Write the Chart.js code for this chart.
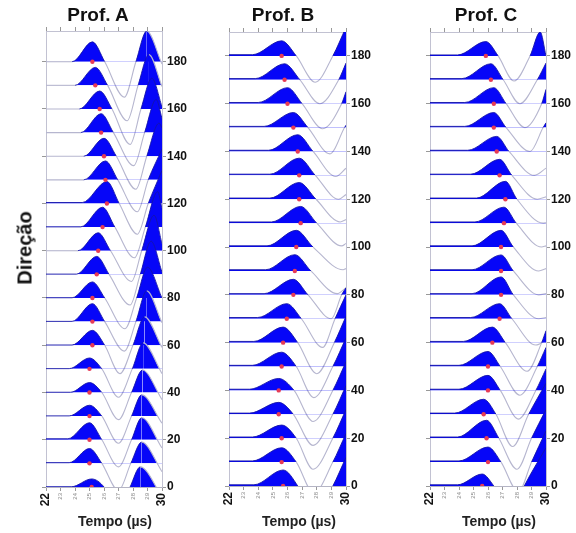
<!DOCTYPE html>
<html>
<head>
<meta charset="utf-8">
<script src="https://cdn.jsdelivr.net/npm/chart.js@4.4.0/dist/chart.umd.min.js"></script>
<style>
  body { margin: 0; background: #fff; width: 576px; height: 533px; position: relative; overflow: hidden;
         font-family: 'Liberation Sans', Arial, sans-serif; }
  canvas { position: absolute; left: 0; top: 0; }
  .txt { position: absolute; font-weight: bold; color: #111; white-space: nowrap; transform: translate(-50%, -50%); }
</style>
</head>
<body>
<canvas id="grafA" width="576" height="533"></canvas>
<canvas id="grafB" width="576" height="533"></canvas>
<canvas id="grafC" width="576" height="533"></canvas>

<div class="txt" style="left:98px;top:15px;font-size:19px">Prof. A</div>
<div class="txt" style="left:283px;top:15px;font-size:19px">Prof. B</div>
<div class="txt" style="left:486px;top:15px;font-size:19px">Prof. C</div>
<div class="txt" style="left:25px;top:248px;font-size:20px;transform:translate(-50%,-50%) rotate(-90deg)">Direção</div>
<div class="txt" style="left:115px;top:521px;font-size:14px;color:#222">Tempo (µs)</div>
<div class="txt" style="left:299px;top:521px;font-size:14px;color:#222">Tempo (µs)</div>
<div class="txt" style="left:499px;top:521px;font-size:14px;color:#222">Tempo (µs)</div>

<script>
// Direcoes (graus) de cada traco, de baixo para cima
const direcoes = [0, 10, 20, 30, 40, 50, 60, 70, 80, 90, 100, 110, 120, 130, 140, 150, 160, 170, 180];
const tempoMin = 22, tempoMax = 30;

// ---- Prof. A ----
const picoA   = [25.15, 25.0, 25.0, 25.0, 25.0, 25.0, 25.2, 25.2, 25.2, 25.5, 25.6, 25.9, 26.2, 26.1, 26.0, 25.8, 25.7, 25.4, 25.2];
const ampA    = [3.4, 6.3, 7.2, 4.6, 4.2, 4.6, 6.3, 7.6, 6.8, 7.6, 7.6, 8.4, 9.3, 8.0, 7.6, 8.0, 7.6, 7.6, 8.4];
const preA    = [0.1, 0.3, 0.4, 0.1, 0.1, 0.1, 0.1, 0.1, 0.1, 0.1, 0, 0.1, 0.4, 0, 0, 0, 0, 0, 0];
const inicioA = [23.75, 23.6, 23.5, 23.6, 23.7, 23.6, 23.8, 23.8, 23.8, 24.1, 24.2, 24.4, 24.5, 24.6, 24.6, 24.4, 24.3, 24.0, 23.8];
const cruzaA  = [26.0, 25.85, 25.85, 25.85, 25.85, 25.85, 26.05, 26.05, 26.05, 26.35, 26.45, 26.75, 27.05, 26.95, 26.85, 26.65, 26.55, 26.25, 26.05];
const valeTA  = [27.0, 27.0, 27.0, 27.0, 27.0, 27.0, 27.1, 27.4, 27.45, 27.8, 27.9, 28.1, 28.3, 28.3, 28.2, 28.05, 27.8, 27.6, 27.4];
const valeA   = [-11, -11.5, -11.5, -11.5, -11.5, -12, -12, -12.5, -13, -13, -13, -13, -13, -13.5, -14, -14, -15, -15, -15];
const sobeA   = [27.8, 27.85, 27.9, 27.9, 27.9, 27.95, 28.0, 28.2, 28.25, 28.5, 28.6, 28.85, 29.05, 29.05, 28.95, 28.8, 28.55, 28.35, 28.2];
const pico2TA = [28.5, 28.6, 28.6, 28.6, 28.65, 28.7, 28.8, 28.95, 29.0, 29.25, 29.45, 29.7, null, null, 29.8, 29.6, 29.3, 29.1, 28.95];
const pico2A  = [8.5, 9, 9.3, 9, 9.5, 11, 12, 13, 13, 14, 15, 15, null, null, 14, 14, 13, 13, 13];
const fimA    = [-4, -3.5, -3.5, -3, -3, -2, -1, -0.5, 0, 1, 3, 8, 14, 13, 12, 6, 1, -0.5, -1];

// ---- Prof. B ----
const picoB   = [25.7, 25.6, 25.6, 25.4, 25.4, 25.6, 25.7, 25.95, 26.4, 26.5, 26.6, 26.9, 26.8, 26.8, 26.7, 26.4, 26.0, 25.8, 25.6];
const ampB    = [6.7, 6.0, 5.5, 5.0, 5.0, 6.0, 6.5, 6.3, 6.5, 6.8, 7.0, 7.0, 7.0, 7.2, 7.0, 6.3, 6.7, 6.7, 6.3];
const preB    = [0.5, 0.5, 0.5, 0.5, 0.5, 0.5, 0.5, 0.5, 0.5, 0.5, 0.5, 0.5, 0.5, 0.5, 0.5, 0.5, 0.5, 0.5, 0.5];
const inicioB = [23.7, 23.6, 23.6, 23.4, 23.4, 23.6, 23.7, 23.95, 24.4, 24.5, 24.6, 24.9, 24.8, 24.8, 24.7, 24.4, 24.0, 23.8, 23.6];
const cruzaB  = [26.7, 26.6, 26.6, 26.4, 26.45, 26.6, 26.7, 26.95, 27.4, 27.6, 27.75, 28.0, 27.95, 27.9, 27.75, 27.4, 27.0, 26.85, 26.6];
const valeTB  = [27.8, 27.8, 27.75, 27.75, 27.75, 27.8, 28.0, 28.4, 29.0, 29.4, 29.8, 29.7, 29.6, 29.5, 29.3, 28.9, 28.4, 28.2, 27.9];
const valeB   = [-13, -13, -13, -13, -13, -13, -13, -12, -10, -9.5, -9.5, -9.5, -9.5, -10, -10.5, -11, -10.5, -10, -11];
const sobeB   = [29.1, 29.1, 29.1, 29.1, 29.1, 29.1, 29.2, 29.25, 29.7, null, null, null, null, null, null, 29.9, 29.7, 29.5, 29.1];
const fimB    = [12, 12, 12, 12, 12, 12, 11, 10, 3, -7, -9, -8.5, -8.5, -8, -7, 1, 5, 7, 12];

// ---- Prof. C ----
const picoC   = [25.6, 26.0, 25.9, 25.7, 26.0, 26.0, 26.3, 26.8, 26.9, 26.9, 26.9, 27.1, 27.2, 26.8, 26.6, 26.4, 26.4, 26.2, 25.85];
const ampC    = [5.0, 6.3, 7.5, 6.3, 6.3, 6.3, 6.5, 6.3, 7.5, 6.7, 7.0, 6.7, 7.5, 6.7, 6.3, 6.3, 6.7, 6.7, 6.0];
const preC    = [0.5, 0.5, 0.5, 0.5, 0.5, 0.5, 0.5, 0.5, 0.5, 0.5, 0.5, 0.5, 0.5, 0.5, 0.5, 0.5, 0.5, 0.5, 0.4];
const inicioC = [23.9, 24.0, 23.9, 23.7, 24.0, 24.0, 24.3, 24.8, 24.9, 24.9, 24.9, 25.1, 25.2, 24.8, 24.6, 24.4, 24.4, 24.2, 23.9];
const cruzaC  = [26.4, 26.9, 26.75, 26.55, 26.85, 26.85, 27.2, 27.65, 27.75, 27.75, 27.75, 27.95, 28.0, 27.65, 27.45, 27.25, 27.25, 27.05, 26.7];
const valeTC  = [27.6, 28.1, 28.0, 27.7, 28.1, 28.2, 28.7, 29.3, 29.5, 29.5, 29.5, 29.7, 29.8, 29.4, 29.2, 28.9, 28.55, 28.2, 27.8];
const valeC   = [-12, -12.5, -13, -13.5, -12, -12, -12, -11, -10, -10, -10, -10, -10, -10, -10, -10, -10, -10, -10.5];
const sobeC   = [28.5, 29.0, 29.0, 28.8, 29.3, 29.4, 29.7, null, null, null, null, null, null, null, null, 29.8, 29.7, 29.4, 28.9];
const pico2TC = [null, null, null, null, null, null, null, null, null, null, null, null, null, null, null, null, null, null, 29.6];
const pico2C  = [null, null, null, null, null, null, null, null, null, null, null, null, null, null, null, null, null, null, 10];
const fimC    = [16, 13, 12, 13, 9, 8, 5, -9, -9.5, -9.5, -9, -9.5, -9.8, -9, -7, 2, 6, 7, 0];

const AZUL = '#0606f8';
const MARINHO = '#1414a8';
const CINZA = '#b6b6cf';
const VERMELHO = '#e63a55';
const FONTE = "'Liberation Sans', Arial, sans-serif";

// Monta os pontos de um traco (tempo, direcao + amplitude)
function montarTracos(p) {
    return direcoes.map((d, i) => {
        const pts = [
            {x: tempoMin, y: d + p.pre[i]},
            {x: p.inicio[i], y: d + p.pre[i]},
            {x: p.pico[i], y: d + p.amp[i]},
            {x: p.cruza[i], y: d},
            {x: p.valeT[i], y: d + p.vale[i]}
        ];
        if (p.sobe[i] != null) pts.push({x: p.sobe[i], y: d});
        if (p.pico2T && p.pico2T[i] != null) pts.push({x: p.pico2T[i], y: d + p.pico2[i]});
        pts.push({x: tempoMax, y: d + p.fim[i]});
        return pts;
    });
}

function criarPainel(id, area, yMax, p) {
    const datasets = [];
    montarTracos(p).forEach((pts, i) => {
        const d = direcoes[i];
        const positivo = c => c.p0.parsed.y >= d && c.p1.parsed.y >= d &&
            (c.p0.parsed.y > d + 0.05 || c.p1.parsed.y > d + 0.05);
        datasets.push({
            data: pts,
            borderColor: CINZA,
            borderWidth: 1.1,
            pointRadius: 0,
            cubicInterpolationMode: 'monotone',
            fill: {target: {value: d}, above: AZUL, below: 'rgba(0,0,0,0)'},
            segment: {
                borderColor: c => positivo(c) ? MARINHO : CINZA,
                borderWidth: c => positivo(c) ? 0.9 : 1.1
            },
            order: 1
        });
    });
    // pontos vermelhos no tempo do pico
    datasets.push({
        data: p.pico.map((t, i) => ({x: t, y: direcoes[i]})),
        showLine: false,
        fill: false,
        pointRadius: 2.2,
        pointBackgroundColor: VERMELHO,
        pointBorderWidth: 0,
        order: 0
    });

    const gradeY = {drawOnChartArea: false, tickLength: 4, color: '#999'};
    const bordaY = {color: '#c2c2d2'};

    new Chart(document.getElementById(id), {
        type: 'line',
        data: {datasets: datasets},
        options: {
            responsive: false,
            animation: false,
            devicePixelRatio: 1,
            layout: {padding: {left: area.esq - 5, right: 576 - area.dir - 28, top: area.topo - 4, bottom: 533 - area.base - 30}},
            plugins: {legend: {display: false}, tooltip: {enabled: false}},
            scales: {
                x: {
                    type: 'linear', position: 'bottom', min: tempoMin, max: tempoMax,
                    ticks: {
                        stepSize: 1, autoSkip: false, minRotation: 90, maxRotation: 90, padding: 2,
                        font: c => (c.tick && (c.tick.value === 22 || c.tick.value === 30))
                            ? {family: FONTE, size: 12, weight: 'bold'} : {family: FONTE, size: 6},
                        color: c => (c.tick && (c.tick.value === 22 || c.tick.value === 30)) ? '#111' : '#888'
                    },
                    grid: {drawOnChartArea: false, tickLength: 4, color: '#999'},
                    border: {color: '#b4b4c4'},
                    afterFit: s => { s.height = 30; s.paddingLeft = 0; s.paddingRight = 0; }
                },
                xTopo: {
                    type: 'linear', position: 'top', min: tempoMin, max: tempoMax,
                    ticks: {display: false, stepSize: 1},
                    grid: {drawOnChartArea: false, tickLength: 4, color: '#999'},
                    border: {color: '#c2c2d2'},
                    afterFit: s => { s.height = 4; s.paddingLeft = 0; s.paddingRight = 0; }
                },
                y: {
                    type: 'linear', position: 'left', min: 0, max: yMax,
                    ticks: {display: false, stepSize: 20, includeBounds: false},
                    grid: gradeY, border: bordaY,
                    afterFit: s => { s.width = 5; s.paddingTop = 0; s.paddingBottom = 0; }
                },
                y2: {
                    type: 'linear', position: 'right', min: 0, max: yMax,
                    ticks: {stepSize: 20, includeBounds: false, padding: 1, color: '#111',
                            font: {family: FONTE, size: 12, weight: 'bold'}},
                    grid: gradeY, border: bordaY,
                    afterFit: s => { s.width = 28; s.paddingTop = 0; s.paddingBottom = 0; }
                }
            }
        }
    });
}

criarPainel('grafA', {esq: 46, dir: 162, topo: 31, base: 487}, 193, {
    pico: picoA, amp: ampA, pre: preA, inicio: inicioA, cruza: cruzaA, valeT: valeTA, vale: valeA,
    sobe: sobeA, pico2T: pico2TA, pico2: pico2A, fim: fimA
});
criarPainel('grafB', {esq: 229, dir: 346, topo: 32, base: 486}, 190, {
    pico: picoB, amp: ampB, pre: preB, inicio: inicioB, cruza: cruzaB, valeT: valeTB, vale: valeB,
    sobe: sobeB, fim: fimB
});
criarPainel('grafC', {esq: 430, dir: 546, topo: 32, base: 486}, 190, {
    pico: picoC, amp: ampC, pre: preC, inicio: inicioC, cruza: cruzaC, valeT: valeTC, vale: valeC,
    sobe: sobeC, pico2T: pico2TC, pico2: pico2C, fim: fimC
});
</script>
</body>
</html>
